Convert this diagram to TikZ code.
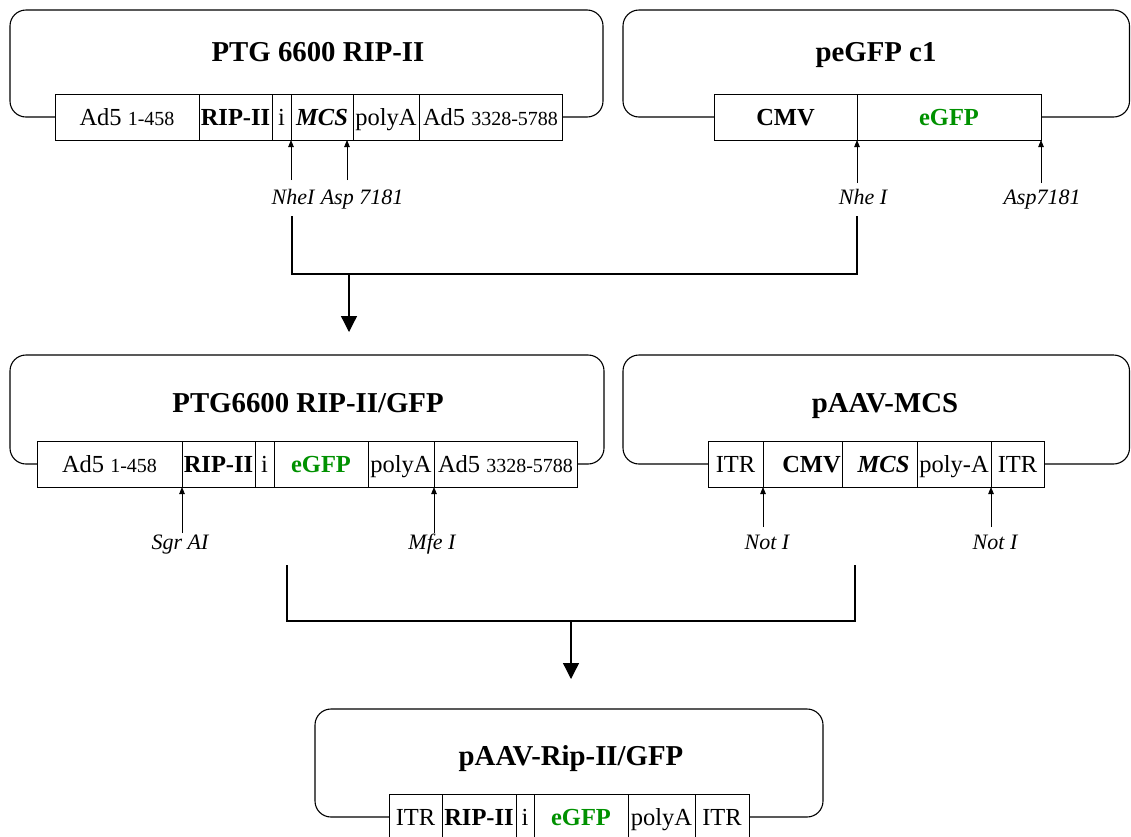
\documentclass[tikz,border=0pt]{standalone}
\usepackage{fontspec}
\setmainfont{Liberation Serif}
\usetikzlibrary{arrows.meta,calc}
\definecolor{gfpgreen}{RGB}{0,145,0}
\newcommand\bodyfont{\fontsize{24.5}{28}\selectfont}
\newcommand\smallnum[1]{{\fontsize{20}{22}\selectfont #1}}
\newcommand\titlefont{\fontsize{28.8}{32}\selectfont\bfseries}
\newcommand\labelfont{\fontsize{22}{24}\selectfont\itshape}
\newcommand\gfp{\textcolor{gfpgreen}{\textbf{eGFP}}}
\newcommand\segbox[5]{\node[seg, minimum width={(#3)-(#2)}] (#1) at ({((#2)+(#3))/2},#4) {#5};}
\tikzset{
  seg/.style={draw, line width=0.9pt, minimum height=46, inner sep=0pt, outer sep=0pt,
              font=\bodyfont, text height=16pt, text depth=0pt},
  frame/.style={draw, line width=1.1pt, rounded corners=16},
  title/.style={font=\titlefont, anchor=base, inner sep=0pt},
  lbl/.style={font=\labelfont, anchor=base, inner sep=0pt},
  site/.style={draw, line width=0.8pt, -{Triangle[length=7pt,width=5.5pt]}},
  link/.style={draw, line width=1.3pt},
  bigarrow/.style={draw, line width=1.3pt, -{Triangle[length=16pt,width=16pt]}}
}
\begin{document}
\begin{tikzpicture}[x=1pt,y=-1pt]
\useasboundingbox (0,0) rectangle (1131,836);

% ---------- Block 1: PTG 6600 RIP-II ----------
\segbox{a1ad}{55}{199}{117}{Ad5 \smallnum{1-458}}
\segbox{a1rip}{199}{272}{117}{\textbf{RIP-II}}
\segbox{a1i}{272}{291}{117}{i}
\segbox{a1mcs}{291}{353}{117}{\textbf{\textit{MCS}}}
\segbox{a1pa}{353}{419}{117}{polyA}
\segbox{a1ad2}{419}{562}{117}{Ad5 \smallnum{3328-5788}}
\draw[frame] (a1ad.west) -- (10,117) -- (10,10) -- (603,10) -- (603,117) -- (a1ad2.east);
\node[title] (t1) at (318,61) {PTG 6600 RIP-II};
\node[lbl] (l1a) at (293,204) {NheI};
\node[lbl] (l1b) at (362,204) {Asp 7181};
\draw[site] ($(a1i.south east)+(0,40)$) -- (a1i.south east);
\draw[site] ($(a1mcs.south east)+(-6,40)$) -- ($(a1mcs.south east)+(-6,0)$);

% ---------- Block 2: peGFP c1 ----------
\segbox{b1cmv}{714}{857}{117}{\textbf{CMV}}
\segbox{b1gfp}{857}{1041}{117}{\gfp}
\draw[frame] (b1cmv.west) -- (623,117) -- (623,10) -- (1129.5,10) -- (1129.5,117) -- (b1gfp.east);
\node[title] (t2) at (876,61) {peGFP c1};
\node[lbl] (l2a) at (863,204) {Nhe I};
\node[lbl] (l2b) at (1042,204) {Asp7181};
\draw[site] ($(b1cmv.south east)+(0,43)$) -- (b1cmv.south east);
\draw[site] ($(b1gfp.south east)+(0,43)$) -- (b1gfp.south east);

% ---------- Connector 1 ----------
\coordinate (c1l) at (292,216);
\coordinate (c1r) at (857,216);
\coordinate (c1h) at (349,274);
\coordinate (c1tip) at (349,332);
\draw[link] (c1l) |- (c1h) -| (c1r);
\draw[bigarrow] (c1h) -- (c1tip);

% ---------- Block 3: PTG6600 RIP-II/GFP ----------
\segbox{c3ad}{37}{182}{464}{Ad5 \smallnum{1-458}}
\segbox{c3rip}{182}{255}{464}{\textbf{RIP-II}}
\segbox{c3i}{255}{274}{464}{i}
\segbox{c3gfp}{274}{368}{464}{\gfp}
\segbox{c3pa}{368}{434}{464}{polyA}
\segbox{c3ad2}{434}{577}{464}{Ad5 \smallnum{3328-5788}}
\draw[frame] (c3ad.west) -- (10,464) -- (10,355) -- (604,355) -- (604,464) -- (c3ad2.east);
\node[title] (t3) at (308,412) {PTG6600 RIP-II/GFP};
\node[lbl] (l3a) at (180,549) {Sgr AI};
\node[lbl] (l3b) at (432,549) {Mfe I};
\draw[site] ($(c3ad.south east)+(0,46)$) -- (c3ad.south east);
\draw[site] ($(c3pa.south east)+(0,46)$) -- (c3pa.south east);

% ---------- Block 4: pAAV-MCS ----------
\segbox{d4itr}{708}{763}{464}{ITR}
\segbox{d4cmv}{763}{842}{464}{\hspace*{18pt}\textbf{CMV}}
\segbox{d4mcs}{842}{917}{464}{\hspace*{8pt}\textbf{\textit{MCS}}}
\segbox{d4pa}{917}{991}{464}{poly-A}
\segbox{d4itr2}{991}{1044}{464}{ITR}
\draw[frame] (d4itr.west) -- (623,464) -- (623,355) -- (1129.5,355) -- (1129.5,464) -- (d4itr2.east);
\node[title] (t4) at (885,412) {pAAV-MCS};
\node[lbl] (l4a) at (767,549) {Not I};
\node[lbl] (l4b) at (995,549) {Not I};
\draw[site] ($(d4itr.south east)+(0,40)$) -- (d4itr.south east);
\draw[site] ($(d4pa.south east)+(0,40)$) -- (d4pa.south east);

% ---------- Connector 2 ----------
\coordinate (c2l) at (287,565);
\coordinate (c2r) at (855,565);
\coordinate (c2h) at (571,621);
\coordinate (c2tip) at (571,679);
\draw[link] (c2l) |- (c2h) -| (c2r);
\draw[bigarrow] (c2h) -- (c2tip);

% ---------- Block 5: pAAV-Rip-II/GFP ----------
\segbox{e5itr}{389}{442}{817}{ITR}
\segbox{e5rip}{442}{516}{817}{\textbf{RIP-II}}
\segbox{e5i}{516}{534}{817}{i}
\segbox{e5gfp}{534}{628}{817}{\gfp}
\segbox{e5pa}{628}{695}{817}{polyA}
\segbox{e5itr2}{695}{749}{817}{ITR}
\draw[frame] (e5itr.west) -- (315,817) -- (315,709) -- (823,709) -- (823,817) -- (e5itr2.east);
\node[title] (t5) at (571,765) {pAAV-Rip-II/GFP};
\end{tikzpicture}
\end{document}
